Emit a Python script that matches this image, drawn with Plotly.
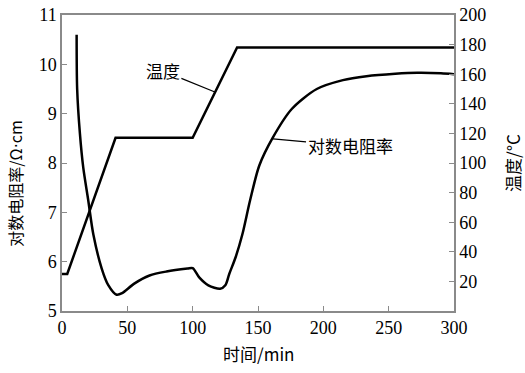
import plotly.graph_objects as go

# Temperature curve (right axis, °C)
temp_time = [0, 4, 41, 100, 134, 300]
temp_vals = [25, 25, 117, 117, 178, 178]

# Log resistivity curve (left axis, Ω·cm)
res_time = [11.2, 11.6, 13.7, 16.3, 20, 24, 30.4, 35.3, 41.8, 46, 55, 67, 80, 96, 100,
            105, 112, 121, 125, 128, 133, 138, 144, 151, 161, 176, 195, 215, 233, 255, 272, 290, 300]
res_vals = [10.6, 9.5, 8.6, 7.9, 7.26, 6.55, 5.86, 5.53, 5.33, 5.36, 5.55, 5.72, 5.8, 5.86, 5.87,
            5.68, 5.52, 5.45, 5.52, 5.75, 6.1, 6.55, 7.25, 7.95, 8.5, 9.1, 9.5, 9.68, 9.76, 9.81, 9.83, 9.82, 9.8]

x_ticks = [0, 50, 100, 150, 200, 250, 300]
left_ticks = [5, 6, 7, 8, 9, 10, 11]
right_ticks = [20, 40, 60, 80, 100, 120, 140, 160, 180, 200]

serif = "Liberation Serif, Times New Roman, serif"
cjk = "Noto Sans CJK SC"

fig = go.Figure()
fig.add_trace(go.Scatter(x=temp_time, y=temp_vals, mode="lines", yaxis="y2",
                         line=dict(color="black", width=2.5), showlegend=False))
fig.add_trace(go.Scatter(x=res_time, y=res_vals, mode="lines", yaxis="y",
                         line=dict(color="black", width=2.5, shape="spline", smoothing=0.8),
                         showlegend=False))

axis_common = dict(showgrid=False, zeroline=False, showline=True, linecolor="#8a8a8a",
                   linewidth=1.5, ticks="inside", ticklen=5, tickcolor="#8a8a8a",
                   automargin=False,
                   tickfont=dict(family=serif, size=18, color="black"))

fig.update_layout(
    width=525, height=373,
    margin=dict(l=62, r=71, t=15, b=62),
    paper_bgcolor="white", plot_bgcolor="white",
    xaxis=dict(range=[0, 300], tickvals=x_ticks, mirror=True, **axis_common),
    yaxis=dict(range=[5, 11], tickvals=left_ticks, **axis_common),
    yaxis2=dict(range=[0, 200], tickvals=right_ticks, overlaying="y", side="right",
                **axis_common),
)

# Axis titles
fig.add_annotation(x=0.5, y=-0.142, xref="paper", yref="paper", text="时间/min",
                   showarrow=False, xanchor="center", yanchor="middle",
                   font=dict(family=cjk, size=17, color="black"))
fig.add_annotation(x=-0.12, y=0.43, xref="paper", yref="paper",
                   text="对数电阻率/Ω<span style='font-family:DejaVu Sans'>·</span>cm",
                   showarrow=False, textangle=-90, xanchor="center", yanchor="middle",
                   font=dict(family=cjk, size=16, color="black"))
fig.add_annotation(x=1.148, y=0.5, xref="paper", yref="paper", text="温度/°C",
                   showarrow=False, textangle=-90, xanchor="center", yanchor="middle",
                   font=dict(family=cjk, size=17, color="black"))

# In-plot labels with leader lines
fig.add_annotation(x=117, y=148, xref="x", yref="y2", text="温度", showarrow=True,
                   arrowhead=0, arrowwidth=1.2, arrowcolor="black", ax=-52, ay=-21,
                   font=dict(family=cjk, size=17, color="black"))
fig.add_annotation(x=161.5, y=8.49, xref="x", yref="y", text="对数电阻率", showarrow=True,
                   arrowhead=0, arrowwidth=1.2, arrowcolor="black", ax=77, ay=7,
                   font=dict(family=cjk, size=17, color="black"))

fig.write_html("out.html", config={"displayModeBar": False},
               post_script="document.body.style.margin='0';")
